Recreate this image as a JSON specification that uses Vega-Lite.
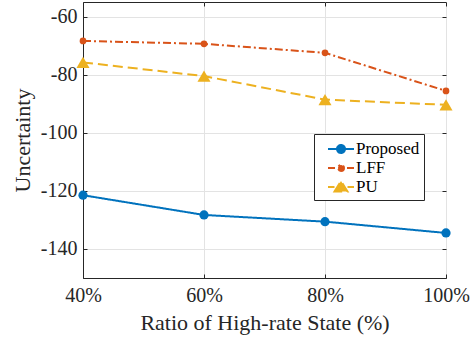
{
  "$schema": "https://vega.github.io/schema/vega-lite/v6.json",
  "width": 363,
  "height": 276,
  "autosize": {"type": "none"},
  "padding": {"left": 83, "top": 2, "right": 29, "bottom": 59},
  "background": "white",
  "config": {
    "font": "Liberation Serif",
    "view": {"stroke": "#262626", "strokeWidth": 1},
    "axis": {
      "domainColor": "#262626",
      "tickColor": "#262626",
      "labelColor": "#262626",
      "titleColor": "#262626",
      "labelFont": "Liberation Serif",
      "titleFont": "Liberation Serif",
      "labelFontSize": 20,
      "titleFontSize": 22,
      "titleFontWeight": "normal",
      "gridColor": "#e3e3e3",
      "gridWidth": 1,
      "tickSize": -4,
      "domainWidth": 1,
      "labelFlush": false,
      "labelOverlap": false
    }
  },
  "data": {
    "values": [
      {"ratio": 40, "method": "Proposed", "value": -121.5},
      {"ratio": 60, "method": "Proposed", "value": -128.3},
      {"ratio": 80, "method": "Proposed", "value": -130.6},
      {"ratio": 100, "method": "Proposed", "value": -134.5},
      {"ratio": 40, "method": "LFF", "value": -68.4},
      {"ratio": 60, "method": "LFF", "value": -69.4},
      {"ratio": 80, "method": "LFF", "value": -72.5},
      {"ratio": 100, "method": "LFF", "value": -85.6},
      {"ratio": 40, "method": "PU", "value": -75.8},
      {"ratio": 60, "method": "PU", "value": -80.5},
      {"ratio": 80, "method": "PU", "value": -88.6},
      {"ratio": 100, "method": "PU", "value": -90.4}
    ]
  },
  "resolve": {"axis": {"x": "independent", "y": "independent"}},
  "layer": [
    {
      "mark": {"type": "line", "strokeWidth": 2},
      "encoding": {
        "x": {"field": "ratio", "type": "quantitative", "scale": {"domain": [40, 100], "nice": false},
          "axis": {"orient": "bottom", "values": [40, 60, 80, 100], "labelExpr": "datum.value + '%'", "title": "Ratio of High-rate State (%)", "grid": true, "labelPadding": 11, "titlePadding": 7}},
        "y": {"field": "value", "type": "quantitative", "scale": {"domain": [-150, -55], "nice": false, "zero": false},
          "axis": {"orient": "left", "values": [-140, -120, -100, -80, -60], "labelExpr": "'' + datum.value", "title": "Uncertainty", "grid": true, "labelPadding": 10, "titlePadding": 6}},
        "color": {"field": "method", "type": "nominal",
          "scale": {"domain": ["Proposed", "LFF", "PU"], "range": ["#0072BD", "#D95319", "#EDB120"]},
          "legend": {
            "title": null,
            "orient": "none",
            "legendX": 231,
            "legendY": 132,
            "padding": 4,
            "rowPadding": 0,
            "fillColor": "white",
            "strokeColor": "#262626",
            "symbolSize": 400,
            "symbolType": "circle",
            "labelFont": "Liberation Serif",
            "labelFontSize": 17,
            "labelColor": "black",
            "labelOffset": 16,
            "labelExpr": "datum.label + '\u2007'",
            "encode": {
              "symbols": {
                "update": {
                  "shape": {"signal": "datum.value === 'PU' ? 'M-0.1,0H0.55M1.85,0H2.5M0.55,0.45L1.2,-0.6L1.85,0.45Z' : datum.value === 'LFF' ? 'M-0.1,0H0.6M1.8,0H2.5M1.5,0A0.3,0.3,0,1,1,0.9,0A0.3,0.3,0,1,1,1.5,0Z' : 'M-0.1,0H2.5M1.6,0A0.4,0.4,0,1,1,0.8,0A0.4,0.4,0,1,1,1.6,0Z'"},
                  "fill": {"signal": "scale('color', datum.value)"},
                  "stroke": {"signal": "scale('color', datum.value)"},
                  "strokeWidth": {"value": 2},
                  "strokeDash": {"value": []},
                  "opacity": {"value": 1},
                  "fillOpacity": {"value": 1}
                }
              }
            }
          }},
        "strokeDash": {"field": "method", "type": "nominal", "legend": null,
          "scale": {"domain": ["Proposed", "LFF", "PU"], "range": [[1, 0], [8, 3, 2, 3], [10, 5]]}}
      }
    },
    {
      "transform": [{"filter": "datum.method === 'Proposed'"}],
      "mark": {"type": "point", "filled": true, "opacity": 1, "shape": "circle", "size": 85, "color": "#0072BD"},
      "encoding": {
        "x": {"field": "ratio", "type": "quantitative", "scale": {"domain": [40, 100], "nice": false},
          "axis": {"orient": "top", "values": [40, 60, 80, 100], "labels": false, "title": null, "grid": false, "domain": false}},
        "y": {"field": "value", "type": "quantitative", "scale": {"domain": [-150, -55], "nice": false, "zero": false},
          "axis": {"orient": "right", "values": [-140, -120, -100, -80, -60], "labels": false, "title": null, "grid": false, "domain": false}}
      }
    },
    {
      "transform": [{"filter": "datum.method === 'LFF'"}],
      "mark": {"type": "point", "filled": true, "opacity": 1, "shape": "circle", "size": 45, "color": "#D95319"},
      "encoding": {
        "x": {"field": "ratio", "type": "quantitative", "axis": null},
        "y": {"field": "value", "type": "quantitative", "axis": null}
      }
    },
    {
      "transform": [{"filter": "datum.method === 'PU'"}],
      "mark": {"type": "point", "filled": true, "opacity": 1, "shape": "triangle-up", "size": 170, "color": "#EDB120"},
      "encoding": {
        "x": {"field": "ratio", "type": "quantitative", "axis": null},
        "y": {"field": "value", "type": "quantitative", "axis": null}
      }
    }
  ]
}
